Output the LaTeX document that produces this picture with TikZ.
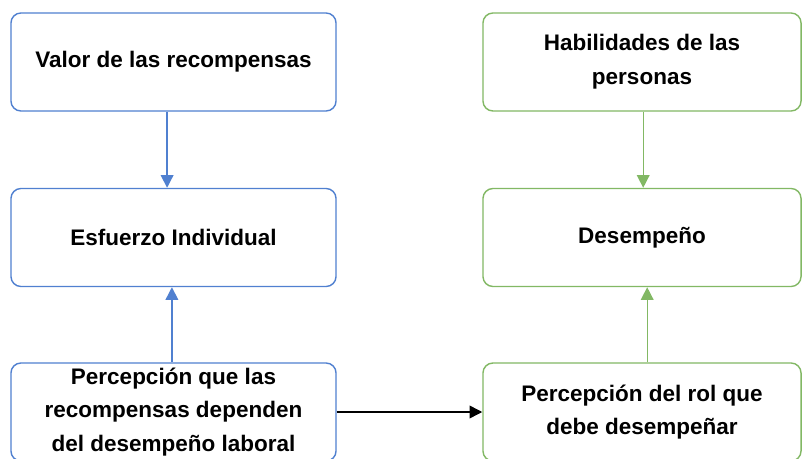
\documentclass[tikz,border=0pt]{standalone}
\usepackage{fontspec}
\setmainfont{Liberation Sans}
\usetikzlibrary{arrows.meta}

\definecolor{azul}{RGB}{80,128,208}
\definecolor{verde}{RGB}{130,184,100}

\begin{document}
\begin{tikzpicture}[x=0.025cm,y=-0.025cm,
    caja/.style={draw, rounded corners=0.25cm, line width=1pt, fill=white,
      minimum height=2.45cm, align=center, inner sep=0pt,
      font=\bfseries\fontsize{16}{24}\selectfont},
    cajaazul/.style={caja, draw=azul, minimum width=8.125cm},
    cajaverde/.style={caja, draw=verde, minimum width=7.95cm},
    flecha/.style={line width=1pt, -{Triangle[width=9pt,length=9pt]}}]

  \useasboundingbox (0,0) rectangle (802,459);

  % columna izquierda
  \node[cajaazul] (valor) at (173.5,62) {Valor de las recompensas};
  \node[cajaazul] (esfuerzo) at (173.5,237.5) {Esfuerzo Individual};
  \node[cajaazul] (percepcion) at (173.5,412) {Percepción que las\\recompensas dependen\\del desempeño laboral};

  % columna derecha
  \node[cajaverde] (habilidades) at (642,62) {Habilidades de las\\personas};
  \node[cajaverde] (desempeno) at (642,237.5) {Desempeño};
  \node[cajaverde] (rol) at (642,412) {Percepción del rol que\\debe desempeñar};

  \draw[flecha, azul] ([xshift=-0.16cm]valor.south) -- ([xshift=-0.16cm]esfuerzo.north);
  \draw[flecha, azul] ([xshift=-0.04cm]percepcion.north) -- ([xshift=-0.04cm]esfuerzo.south);
  \draw[flecha, verde] ([xshift=0.03cm]habilidades.south) -- ([xshift=0.03cm]desempeno.north);
  \draw[flecha, verde] ([xshift=0.13cm]rol.north) -- ([xshift=0.13cm]desempeno.south);
  \draw[flecha, black] (percepcion.east) -- (rol.west);

\end{tikzpicture}
\end{document}
